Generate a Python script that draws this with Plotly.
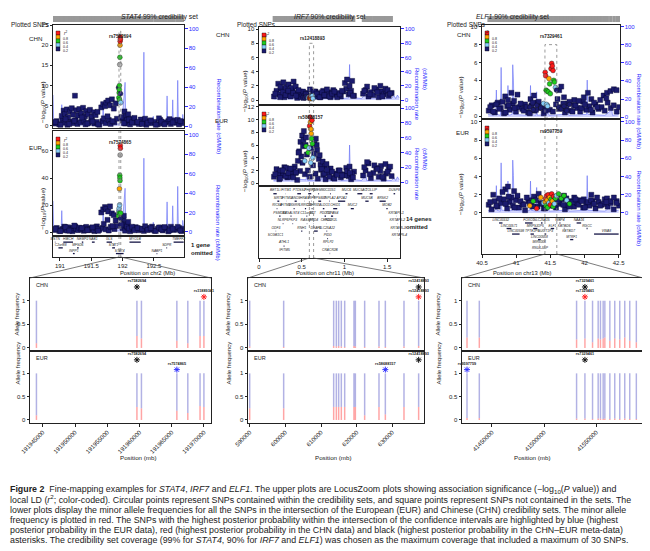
import plotly.graph_objects as go

# ---------------------------------------------------------------------------
# STAT4 locus, chr2 (Mb). Squares = plotted SNPs outside the credibility set
stat4_pos = [190.91, 190.95, 190.99, 191.04, 191.07, 191.12, 191.17, 191.20, 191.25, 191.28,
             191.33, 191.38, 191.41, 191.46, 191.50, 191.55, 191.59, 191.63, 191.68, 191.73,
             191.78, 191.81, 191.87, 191.91, 192.00, 192.04, 192.08, 192.12, 192.17, 192.21,
             192.26, 192.29, 192.34, 192.38, 192.43, 192.47, 192.51, 192.56, 192.60, 192.64,
             192.69, 192.73, 192.77, 192.82, 192.86, 192.90, 192.94, 192.97,
             191.03, 191.06, 191.08, 191.11, 191.13, 191.16, 191.19, 191.21, 191.24, 191.26,
             191.29, 191.31, 191.34, 191.37, 191.40, 191.42, 191.45, 191.48, 191.51, 191.54,
             191.57, 191.60,
             191.66, 191.69, 191.72, 191.74, 191.77, 191.80, 191.83, 191.86, 191.89,
             192.01, 192.03, 192.05, 192.07, 192.09, 192.13,
             190.93, 191.01, 191.09, 191.15, 191.23, 191.35, 191.44, 191.52, 191.61, 191.70,
             191.76, 191.84, 191.98, 192.02, 192.10, 192.15, 192.19, 192.24, 192.31, 192.36,
             192.40, 192.45, 192.53, 192.58, 192.62, 192.67, 192.75, 192.80, 192.88, 192.92]
stat4_chn = [0.6, 1.2, 0.4, 1.5, 0.8, 0.3, 1.1, 0.7, 1.4, 0.5,
             0.9, 1.3, 0.4, 0.8, 1.6, 0.6, 1.0, 0.3, 1.2, 0.7,
             1.5, 0.5, 0.9, 1.8, 1.4, 0.6, 1.1, 0.4, 1.3, 0.8,
             0.5, 1.6, 0.9, 0.3, 1.2, 0.7, 1.0, 0.4, 1.5, 0.6,
             0.9, 1.2, 0.5, 1.4, 0.8, 0.4, 1.1, 0.7,
             2.5, 3.8, 3.0, 4.1, 2.2, 3.6, 4.4, 2.8, 7.5, 3.9,
             2.6, 4.2, 3.1, 4.5, 2.4, 3.7, 2.9, 4.0, 2.3, 3.4,
             2.7, 3.5,
             4.6, 5.4, 4.9, 5.8, 6.3, 5.1, 6.6, 4.3, 5.6,
             2.0, 3.6, 2.4, 1.5, 2.9, 1.8,
             1.0, 0.3, 1.7, 0.5, 1.3, 2.1, 0.6, 1.1, 0.4, 1.9,
             2.4, 1.2, 2.2, 0.7, 1.6, 0.9, 2.0, 1.0, 0.5, 1.8,
             0.8, 1.4, 0.3, 1.9, 1.1, 0.4, 1.7, 0.9, 1.5, 1.2]
stat4_eur = [1.5, 3.0, 0.8, 2.2, 4.0, 1.2, 2.8, 0.6, 3.5, 1.8,
             2.4, 0.9, 3.2, 1.4, 2.6, 0.7, 4.2, 1.6, 3.0, 2.0,
             1.1, 3.8, 2.2, 4.5, 2.8, 1.0, 3.4, 0.6, 2.0, 3.6,
             1.3, 2.5, 0.8, 3.1, 1.7, 4.0, 0.9, 2.3, 3.3, 1.2,
             2.7, 0.5, 3.9, 1.5, 2.1, 3.0, 0.7, 2.4,
             1.5, 2.0, 2.8, 1.2, 3.5, 2.2, 1.8, 3.0, 4.2, 2.5,
             1.4, 3.2, 2.0, 2.7, 1.6, 3.8, 2.3, 1.9, 2.9, 1.5,
             3.3, 2.1,
             14.5, 16.8, 18.5, 17.2, 15.2, 19.0, 13.8, 12.5, 8.5,
             9.5, 6.0, 5.0, 4.2, 7.5, 3.0,
             2.4, 0.7, 3.6, 1.0, 4.8, 2.9, 1.4, 3.5, 0.9, 6.0,
             9.0, 4.4, 5.5, 12.0, 2.6, 3.9, 1.3, 3.0, 2.2, 4.3,
             1.6, 2.9, 0.8, 3.4, 1.9, 3.7, 1.2, 2.5, 3.8, 1.1]
# circles = SNPs in the credibility set, with LD r2 to the lead SNP (-1 = no LD info)
stat4_set_pos = [191.935, 191.940, 191.945, 191.948, 191.950, 191.952, 191.955,
                 191.957, 191.959, 191.961, 191.963, 191.965, 191.967, 191.970]
stat4_set_chn = [9.5, 7.0, 8.2, 9.0, 10.0, 6.5, 15.2, 17.0, 20.0, 21.0, 22.0, 21.5, 8.0, 5.8]
stat4_set_eur = [12.0, 15.5, 17.5, 14.0, 32.0, 20.0, 42.0, 40.0, 38.0, 57.0, 64.0, 62.0, 10.0, 14.0]
stat4_set_chn_r2 = [0.1, 0.5, 0.5, 0.5, 0.5, 0.5, -1, 0.5, 0.7, 0.9, 0.9, 0.9, 0.1, 0.3]
stat4_set_eur_r2 = [0.5, 0.3, 0.3, 0.5, 0.7, 0.3, 0.5, 0.5, 0.5, -1, 0.9, 0.9, 0.1, 0.5]
stat4_rec_pos = [190.89, 190.90, 190.96, 191.02, 191.03, 191.04, 191.23, 191.24, 191.25, 191.50,
                 191.68, 191.69, 191.70, 191.95, 192.00, 192.02, 192.04, 192.05, 192.07, 192.20,
                 192.33, 192.34, 192.35, 192.48, 192.49, 192.50, 192.65, 192.70, 192.71, 192.72,
                 192.79, 192.80, 192.81, 192.87, 192.88, 192.89, 192.95, 192.96, 192.98]
stat4_rec_rate = [32, 5, 3, 3, 22, 2, 2, 9, 2, 3,
                  2, 25, 3, 2, 12, 30, 45, 10, 3, 2,
                  3, 76, 4, 2, 10, 2, 3, 2, 31, 3,
                  2, 27, 3, 2, 47, 3, 3, 12, 3]
stat4_gene_name = ["MSTN", "C2orf88", "HIBCH", "INPP1", "MFSD6", "NEMP2", "NAB1",
                   "GLS", "STAT1", "STAT4", "MYO1B", "NABP1", "SDPR", "TMEFF2"]
stat4_gene_start = [190.920, 190.977, 191.054, 191.208, 191.273, 191.350, 191.511,
                    191.745, 191.834, 191.894, 192.110, 192.543, 192.699, 192.814]
stat4_gene_end = [190.927, 191.046, 191.209, 191.236, 191.301, 191.373, 191.555,
                  191.830, 191.879, 192.016, 192.290, 192.554, 192.711, 192.975]
stat4_gene_row = [0, 1, 0, 2, 1, 0, 0, 0, 1, 2, 0, 2, 1, 0]
stat4_ticks = [191, 191.5, 192, 192.5, 193]
stat4_tick_text = ["191", "191.5", "192", "192.5", "193"]
stat4_lead = ["rs7582694", "rs7574865"]
# intersection of the credibility sets (bp)
stat4_window = [191943000, 191971100]
stat4_af_pos = [191944000, 191959600, 191960300, 191965800, 191967500, 191969400, 191970000]
stat4_af_chn = [0.10, 0.25, 0.20, 0.15, 0.10, 0.25, 0.25]
stat4_af_eur = [0.10, 0.28, 0.25, 0.20, 0.15, 0.30, 0.28]
stat4_af_ticks = [191945000, 191950000, 191955000, 191960000, 191965000, 191970000]
# highlighted SNPs: CHN meta, CHN best, EUR meta, EUR best
stat4_star_pos = [191959600, 191970000, 191959600, 191965800]
stat4_star_label = ["rs7582694", "rs11889341", "rs7582694", "rs7574865"]

# ---------------------------------------------------------------------------
# IRF7 locus, chr11 (Mb)
irf7_pos = [0.175, 0.205, 0.238, 0.262, 0.297, 0.331, 0.356, 0.392, 0.418, 0.447,
            0.481, 0.509, 0.537, 0.571, 0.596, 0.632, 0.661, 0.688, 0.724, 0.751,
            0.779, 0.812, 0.838, 0.869, 0.897, 0.931, 0.958, 0.987, 1.021, 1.049,
            1.078, 1.112, 1.218, 1.247, 1.281, 1.309, 1.338, 1.372, 1.401, 1.428,
            1.459, 1.487, 1.518, 1.552,
            0.225, 0.250, 0.285, 0.315, 0.345, 0.375, 0.405, 0.430,
            1.005, 1.030, 1.060, 1.090,
            1.265, 1.350, 1.420, 1.480,
            0.455, 0.470, 0.485, 0.495, 0.505, 0.515, 0.525, 0.545, 0.560,
            0.650, 0.665, 0.680, 0.700, 0.720, 0.745, 0.770, 0.790,
            0.190, 0.248, 0.278, 0.312, 0.342, 0.368, 0.400, 0.432, 0.462, 0.520,
            0.550, 0.612, 0.645, 0.675, 0.710, 0.737, 0.765, 0.795, 0.825, 0.855,
            0.883, 0.915, 0.945, 0.972, 1.065, 1.100, 1.232, 1.295, 1.385, 1.445,
            1.505, 1.535]
irf7_chn = [0.5, 1.3, 0.8, 1.6, 0.4, 1.1, 0.7, 1.4, 0.9, 0.3,
            1.2, 0.6, 1.0, 0.4, 1.5, 0.8, 1.2, 0.5, 0.9, 1.3,
            0.6, 1.1, 0.4, 1.4, 0.7, 1.0, 0.5, 1.2, 1.6, 0.8,
            1.3, 0.6, 0.9, 1.4, 0.5, 1.1, 0.7, 1.5, 0.4, 1.2,
            0.8, 1.3, 0.6, 1.0,
            2.3, 1.9, 2.5, 1.8, 2.2, 1.7, 2.6, 1.9,
            2.4, 2.9, 2.0, 2.7,
            1.9, 1.7, 2.0, 1.6,
            0.9, 0.6, 1.1, 0.4, 0.8, 1.2, 0.5, 0.9, 0.7,
            0.6, 1.0, 0.5, 0.8, 0.4, 0.9, 0.6, 1.0,
            0.9, 0.4, 1.1, 0.7, 1.3, 0.5, 1.0, 0.6, 1.4, 0.3,
            0.8, 0.5, 1.2, 0.9, 0.4, 1.1, 0.7, 1.5, 0.5, 0.9,
            1.2, 0.4, 0.8, 1.3, 1.0, 0.6, 1.3, 0.8, 1.1, 0.5,
            1.4, 0.9]
irf7_eur = [1.0, 2.2, 0.6, 1.6, 2.5, 0.9, 1.8, 1.2, 2.6, 0.5,
            1.9, 3.2, 1.4, 2.0, 1.0, 2.8, 1.5, 0.7, 2.1, 1.3,
            0.6, 1.7, 2.3, 0.8, 1.5, 2.0, 0.9, 1.4, 2.4, 1.1,
            0.6, 1.8, 1.2, 2.0, 3.1, 0.8, 1.6, 2.4, 1.0, 2.7,
            0.7, 1.5, 2.2, 1.1,
            1.5, 2.0, 1.2, 2.4, 1.0, 1.8, 2.2, 1.6,
            1.2, 1.9, 2.6, 1.4,
            3.3, 2.8, 1.9, 3.0,
            3.5, 5.0, 6.5, 4.2, 7.5, 5.8, 8.2, 6.0, 4.5,
            6.2, 7.0, 5.2, 3.8, 2.9, 3.4, 2.6, 3.0,
            1.4, 0.8, 2.0, 1.1, 1.6, 2.3, 0.9, 1.7, 4.8, 6.8,
            7.2, 5.5, 4.6, 6.0, 4.4, 2.2, 1.5, 2.1, 1.0, 1.8,
            0.7, 1.3, 2.0, 1.2, 1.6, 0.9, 2.5, 1.4, 2.2, 1.0,
            1.8, 2.6]
irf7_set_pos = [0.535, 0.552, 0.575, 0.585, 0.592, 0.598, 0.602,
                0.605, 0.607, 0.611, 0.615, 0.620, 0.625, 0.630]
irf7_set_chn = [0.3, 0.5, 0.3, 0.4, 0.3, 0.2, 0.4, 0.3, 0.3, 0.2, 0.5, 0.3, 0.6, 0.2]
irf7_set_eur = [3.5, 5.8, 4.8, 5.5, 9.0, 10.4, 9.6, 3.2, 8.5, 7.8, 7.0, 9.9, 6.2, 4.0]
irf7_set_chn_r2 = [0.1, 0.1, 0.3, 0.3, 0.9, 0.9, 0.9, 0.7, 0.9, 0.7, 0.3, 0.9, 0.3, 0.3]
irf7_set_eur_r2 = [0.3, 0.5, 0.5, 0.3, 0.9, 0.9, 0.7, 0.3, 0.7, 0.7, 0.5, 0.9, 0.5, 0.3]
irf7_rec_pos = [0.17, 0.25, 0.26, 0.27, 0.40, 0.41, 0.42, 0.55, 0.56, 0.57,
                0.73, 0.74, 0.75, 0.90, 0.95, 0.96, 1.05, 1.06, 1.07, 1.20,
                1.25, 1.26, 1.40, 1.55, 1.58, 1.60, 1.62, 1.64]
irf7_rec_rate = [2, 4, 12, 3, 3, 22, 4, 3, 10, 2,
                 3, 15, 3, 2, 8, 2, 3, 50, 4, 2,
                 10, 2, 3, 2, 6, 2, 7, 3]
irf7_gene_name = ["BET1L", "SIRT3", "RIC8A", "PSMD13", "NLRP6", "ODF3", "SCGB1C1", "IFITM1",
                  "IFITM3", "IFITM2", "ATHL1", "IFITM5", "B4GALNT4", "PKP3", "SIGIRR", "ANO9",
                  "PTDSS2", "RNH1", "HRAS", "LRRC56", "C11orf35", "RASSF7", "PHRF1", "IRF7",
                  "CDHR5", "SCT", "DRD4", "DEAF1", "TMEM80", "EPS8L2", "TALDO1", "PDDC1",
                  "CEND1", "SLC25A22", "PIDD", "RPLP2", "PNPLA2", "CRACR2B", "CD151", "POLR2L",
                  "TSPAN4", "CHID1", "AP2A2", "MUC6", "MUC2", "MUC5AC", "MUC5B", "TOLLIP",
                  "BRSK2", "MOB2", "DUSP8", "KRTAP5-1", "KRTAP5-2", "KRTAP5-3", "KRTAP5-4",
                  "KRTAP5-5"]
irf7_gene_start = [0.168, 0.215, 0.207, 0.236, 0.278, 0.196, 0.193, 0.313,
                   0.319, 0.308, 0.288, 0.298, 0.369, 0.393, 0.405, 0.417,
                   0.448, 0.494, 0.532, 0.537, 0.555, 0.560, 0.576, 0.612,
                   0.616, 0.626, 0.637, 0.644, 0.695, 0.694, 0.747, 0.767,
                   0.787, 0.790, 0.799, 0.809, 0.819, 0.828, 0.832, 0.842,
                   0.842, 0.868, 0.925, 1.012, 1.074, 1.151, 1.244, 1.296,
                   1.411, 1.490, 1.575, 1.605, 1.618, 1.627, 1.642, 1.651]
irf7_gene_end = [0.207, 0.237, 0.215, 0.252, 0.285, 0.200, 0.194, 0.315,
                 0.321, 0.309, 0.298, 0.299, 0.380, 0.399, 0.417, 0.442,
                 0.491, 0.507, 0.535, 0.551, 0.565, 0.564, 0.611, 0.616,
                 0.626, 0.627, 0.640, 0.687, 0.703, 0.727, 0.765, 0.784,
                 0.789, 0.798, 0.808, 0.811, 0.825, 0.832, 0.839, 0.843,
                 0.867, 0.915, 1.009, 1.036, 1.110, 1.209, 1.283, 1.330,
                 1.483, 1.506, 1.593, 1.607, 1.620, 1.629, 1.644, 1.653]
irf7_gene_row = [0, 1, 2, 3, 4, 5, 6, 0,
                 1, 2, 7, 8, 3, 4, 2, 1,
                 0, 5, 1, 2, 3, 4, 0, 1,
                 2, 3, 4, 5, 0, 1, 2, 3,
                 4, 5, 6, 7, 1, 8, 0, 4,
                 3, 2, 1, 0, 2, 0, 1, 0,
                 1, 2, 0, 3, 4, 5, 6, 7]
irf7_ticks = [0, 0.5, 1, 1.5]
irf7_tick_text = ["0", "0.5", "1", "1.5"]
irf7_lead = ["rs12418893", "rs58688157"]
irf7_window = [589530, 638880]
irf7_af_pos = [590000, 599530, 613550, 614300, 614950, 615700, 616640,
               619250, 619630, 622240, 626260, 628040, 633270, 637380]
irf7_af_chn = [0.03, 0.02, 0.04, 0.03, 0.04, 0.03, 0.02, 0.04, 0.03, 0.02, 0.03, 0.02, 0.03, 0.04]
irf7_af_eur = [0.25, 0.25, 0.28, 0.28, 0.28, 0.28, 0.28, 0.28, 0.28, 0.10, 0.28, 0.12, 0.28, 0.28]
irf7_af_ticks = [590000, 600000, 610000, 620000, 630000]
irf7_star_pos = [637380, 637380, 637380, 628040]
irf7_star_label = ["rs12418893", "rs12418893", "rs12418893", "rs58688157"]

# ---------------------------------------------------------------------------
# ELF1 locus, chr13 (Mb)
elf1_pos = [40.598, 40.641, 40.687, 40.729, 40.776, 40.822, 40.868, 40.905, 40.953, 40.997,
            41.042, 41.089, 41.131, 41.176, 41.224, 41.268, 41.312, 41.357, 41.403, 41.448,
            41.493, 41.538, 41.583, 41.627, 41.668, 41.714, 41.757, 41.803, 41.846, 41.892,
            41.937, 41.981, 42.026, 42.072, 42.118, 42.161, 42.207, 42.251, 42.296, 42.339,
            42.385, 42.428, 42.472, 42.505,
            40.84, 40.88, 40.93, 40.97, 41.02, 41.21, 41.26, 41.33, 41.63, 41.66,
            41.70, 41.85, 41.99, 42.05, 42.10, 42.28, 42.33, 42.38, 42.43, 42.47,
            40.620, 40.665, 40.710, 40.752, 40.800, 40.845, 40.890, 40.975, 41.065, 41.110,
            41.155, 41.200, 41.245, 41.290, 41.380, 41.425, 41.605, 41.690, 41.735, 41.780,
            41.825, 41.870, 41.915, 41.960, 42.005, 42.095, 42.140, 42.185, 42.230, 42.320]
elf1_chn = [0.6, 1.2, 0.4, 1.5, 0.9, 0.3, 1.1, 0.7, 1.4, 0.5,
            1.0, 0.8, 1.3, 0.4, 1.2, 0.6, 1.5, 0.9, 0.3, 1.1,
            0.7, 0.5, 1.3, 0.8, 1.0, 0.4, 1.4, 0.6, 1.2, 0.9,
            0.5, 1.6, 0.7, 1.1, 0.4, 1.3, 0.8, 1.0, 0.6, 1.5,
            0.9, 1.2, 0.5, 1.0,
            2.2, 1.8, 2.6, 1.7, 2.4, 1.9, 2.3, 1.6, 2.9, 3.3,
            2.1, 1.8, 2.1, 2.6, 1.9, 2.3, 2.6, 2.8, 3.0, 2.9,
            1.0, 0.5, 1.3, 0.8, 1.6, 0.4, 1.2, 0.9, 1.4, 0.6,
            1.0, 0.3, 1.5, 0.7, 1.1, 0.6, 1.9, 1.4, 0.8, 1.6,
            0.5, 1.2, 1.7, 0.9, 1.3, 0.7, 1.5, 1.0, 1.8, 2.0]
elf1_eur = [0.9, 0.4, 1.3, 0.7, 1.1, 1.5, 0.5, 1.2, 0.8, 1.4,
            0.6, 1.0, 0.3, 1.3, 0.9, 1.6, 0.7, 1.1, 0.5, 1.4,
            0.8, 1.2, 0.6, 1.0, 1.5, 0.4, 0.9, 1.3, 0.7, 1.1,
            1.4, 0.6, 1.0, 0.8, 1.3, 0.5, 1.2, 0.9, 1.5, 0.7,
            1.1, 0.4, 1.3, 0.8,
            2.6, 2.9, 1.7, 2.4, 1.9, 1.4, 1.8, 2.1, 1.2, 1.6,
            1.9, 1.7, 1.5, 1.2, 2.0, 1.0, 1.6, 1.3, 1.7, 1.1,
            1.2, 2.0, 0.8, 1.6, 2.3, 1.0, 1.8, 0.6, 1.3, 0.9,
            1.7, 1.1, 0.7, 1.4, 1.0, 0.5, 1.3, 0.9, 1.6, 0.7,
            1.2, 1.5, 0.9, 1.3, 0.6, 1.4, 1.0, 1.7, 0.8, 1.2]
elf1_set_pos = [41.20, 41.25, 41.30, 41.36, 41.40, 41.425, 41.432, 41.438, 41.445, 41.452,
                41.460, 41.470, 41.480, 41.490, 41.500, 41.510, 41.520, 41.530, 41.540, 41.550,
                41.560, 41.575, 41.590, 41.62, 41.66, 41.70, 41.74, 41.78]
elf1_set_chn = [1.0, 0.7, 1.2, 0.9, 1.4, 4.9, 4.5, 2.9, 1.3, 2.8,
                1.1, 2.7, 4.2, 3.6, 2.5, 5.3, 5.9, 5.6, 5.1, 4.0,
                3.8, 3.2, 2.9, 1.0, 0.8, 1.1, 0.6, 1.3]
elf1_set_eur = [0.8, 1.3, 0.5, 1.7, 1.1, 1.2, 1.6, 0.8, 1.9, 1.4,
                0.6, 2.0, 1.1, 1.7, 0.9, 1.5, 2.1, 1.3, 0.7, 1.8,
                1.0, 1.6, 1.9, 2.1, 1.6, 1.9, 1.4, 1.0]
elf1_set_chn_r2 = [0.1, 0.1, 0.1, 0.1, 0.3, 0.9, 0.9, 0.5, 0.3, 0.5,
                   0.3, 0.5, 0.7, 0.5, 0.5, 0.9, 0.9, 0.9, 0.9, 0.5,
                   0.5, 0.3, 0.1, 0.1, 0.1, 0.1, 0.1, 0.1]
elf1_set_eur_r2 = [0.7, 0.5, 0.9, 0.7, 0.3, 0.7, 0.9, 0.5, 0.9, 0.7,
                   0.5, 0.9, 0.3, 0.7, 0.9, 0.5, 0.9, 0.7, 0.5, 0.9,
                   0.3, 0.5, 0.3, 0.5, 0.5, 0.5, 0.3, 0.5]
elf1_rec_pos = [40.59, 40.66, 40.70, 40.71, 40.72, 40.77, 40.78, 40.79, 40.87, 40.88,
                40.89, 40.94, 40.95, 40.96, 40.97, 41.15, 41.20, 41.21, 41.22, 41.29,
                41.30, 41.31, 41.45, 41.47, 41.48, 41.70, 41.76, 41.77, 42.03, 42.04,
                42.05, 42.30, 42.40, 42.41, 42.50]
elf1_rec_rate = [3, 2, 4, 30, 3, 2, 55, 3, 3, 35,
                 2, 3, 58, 41, 3, 2, 3, 35, 3, 2,
                 28, 2, 3, 12, 2, 3, 18, 2, 3, 41,
                 3, 2, 8, 2, 3]
elf1_gene_name = ["LINC00332", "LINC00571", "LINC00598", "FOXO1", "MRPS31P5", "TPTE2P5",
                  "LINC00558", "MIR5006", "RNU6-55P", "SLC25A15", "ELF1", "SUGT1P3", "WBP4",
                  "KBTBD6", "KBTBD7", "MTRF1", "NAA16", "RGCC", "VWA8"]
elf1_gene_start = [40.750, 40.860, 40.940, 41.130, 41.250, 41.210,
                   41.320, 41.335, 41.345, 41.363, 41.506, 41.420, 41.635,
                   41.699, 41.766, 41.790, 41.885, 42.031, 42.140]
elf1_gene_end = [40.800, 40.930, 41.050, 41.240, 41.310, 41.260,
                 41.360, 41.340, 41.350, 41.386, 41.556, 41.440, 41.647,
                 41.705, 41.768, 41.836, 41.951, 42.045, 42.500]
elf1_gene_row = [0, 1, 2, 0, 1, 2, 3, 4, 5, 0, 1, 2, 0, 1, 2, 3, 0, 1, 2]
elf1_ticks = [40.5, 41, 41.5, 42, 42.5]
elf1_tick_text = ["40.5", "41", "41.5", "42", "42.5"]
elf1_lead = ["rs7329461", "rs9597759"]
elf1_window = [41421300, 41594900]
elf1_af_pos = [41426100, 41437900, 41531200, 41539200, 41546500, 41551900, 41554100, 41556700,
               41558300, 41563100, 41567800, 41572600, 41577400, 41582200, 41588500]
elf1_af_chn = [0.22, 0.22, 0.18, 0.20, 0.12, 0.20, 0.18, 0.20, 0.22, 0.15, 0.20, 0.18, 0.22, 0.15, 0.12]
elf1_af_eur = [0.04, 0.04, 0.03, 0.03, 0.02, 0.03, 0.03, 0.02, 0.03, 0.02, 0.03, 0.02, 0.03, 0.02, 0.02]
elf1_af_ticks = [41450000, 41500000, 41550000]
elf1_star_pos = [41539200, 41539200, 41539200, 41426100]
elf1_star_label = ["rs7329461", "rs7329461", "rs7329461", "rs9597759"]

caption_lines = [
    "<b>Figure 2</b>  Fine-mapping examples for <i>STAT4</i>, <i>IRF7</i> and <i>ELF1</i>. The upper plots are LocusZoom plots showing association significance (\u2212log<sub>10</sub>(<i>P</i> value)) and",
    "local LD (<i>r</i><sup>2</sup>; color-coded). Circular points represent SNPs contained within the credibility sets, and square points represent SNPs not contained in the sets. The",
    "lower plots display the minor allele frequencies for all the SNPs in the intersection of the European (EUR) and Chinese (CHN) credibility sets. The minor allele",
    "frequency is plotted in red. The SNPs with the highest posterior probability within the intersection of the confidence intervals are highlighted by blue (highest",
    "posterior probability in the EUR data), red (highest posterior probability in the CHN data) and black (highest posterior probability in the CHN\u2013EUR meta-data)",
    "asterisks. The credibility set coverage (99% for <i>STAT4</i>, 90% for <i>IRF7</i> and <i>ELF1</i>) was chosen as the maximum coverage that included a maximum of 30 SNPs.",
]

# ---------------------------------------------------------------------------
# the page body keeps an 8 px margin, so the figure is 8 px smaller and all
# pixel positions below are shifted by 8
OFF = 8
W, H = 650 - OFF, 551 - OFF
FONT = "Liberation Sans"
INK = "#1a1a1a"
REC_BLUE = "#2a2aff"
NAVY = "#1b1b6e"
LD_BINS = [(0.8, "#ff1a1a"), (0.6, "#ffa500"), (0.4, "#1fcc1f"), (0.2, "#87cefa"), (0.0, NAVY)]


def ld_color(r2):
    if r2 < 0:
        return "#b8b8b8"
    for lo, c in LD_BINS:
        if r2 >= lo:
            return c


def px(x):
    return (x - OFF) / W


def py(y):
    return 1 - (y - OFF) / H


def data_for(k):
    g = globals()
    return {name: g[f"{k}_{name}"] for name in [
        "pos", "chn", "eur", "set_pos", "set_chn", "set_eur", "set_chn_r2", "set_eur_r2",
        "rec_pos", "rec_rate", "gene_name", "gene_start", "gene_end", "gene_row", "ticks",
        "tick_text", "lead", "window", "af_pos", "af_chn", "af_eur", "af_ticks",
        "star_pos", "star_label"]}


# page geometry, in pixels of the 650x551 picture
COLUMNS = [
    dict(key="stat4", title="<i>STAT4</i> 99% credibility set", chrom="chr2",
         lz=(53, 184), chn=(25, 128), eur=(131, 235), gene=(237, 257), af=(30, 211),
         xr=[190.89, 192.98], chn_y=[-0.5, 25.0], chn_t=[0, 5, 10, 15, 20, 25], chn_rec=[-2, 104],
         eur_y=[-2.2, 74.8], eur_t=[0, 20, 40, 60], eur_rec=[-3.1, 104], box_top=23.5, bar_w=230,
         plotted_right=51, tag_x=27, tag_y=(33, 142), ytitle_x=37, rtitle_x=213,
         rtitle="Recombination rate (cM/Mb)", xtitle_x=118, afl_x=12, post_x=118,
         omit="1 gene<br>omitted", omit_xy=(189, 249)),
    dict(key="irf7", title="<i>IRF7</i> 90% credibility set", chrom="chr11",
         lz=(259, 400), chn=(27, 104), eur=(106, 185), gene=(187, 258), af=(248, 424),
         xr=[0.0, 1.65], chn_y=[-0.56, 10.3], chn_t=[0, 2, 4, 6, 8, 10], chn_rec=[-5.6, 102.8],
         eur_y=[-0.3, 12.15], eur_t=[0, 2, 4, 6, 8, 10, 12], eur_rec=[-4, 102.7], box_top=8, bar_w=420,
         plotted_right=277, tag_x=222, tag_y=(29, 115), ytitle_x=245, rtitle_x=421,
         rtitle="(cM/Mb)<br>Recombination rate", xtitle_x=325, afl_x=228, post_x=333,
         omit="14 genes<br>omitted", omit_xy=(404, 223)),
    dict(key="elf1", title="<i>ELF1</i> 90% credibility set", chrom="chr13",
         lz=(482, 620), chn=(25, 118), eur=(120, 217), gene=(218, 254), af=(462, 643),
         xr=[40.5, 42.52], chn_y=[-0.22, 10.2], chn_t=[0, 2, 4, 6, 8, 10], chn_rec=[-1, 102],
         eur_y=[-0.44, 10.2], eur_t=[0, 2, 4, 6, 8, 10], eur_rec=[-4.4, 102], box_top=8, bar_w=1400,
         plotted_right=487, tag_x=472, tag_y=(29, 127), ytitle_x=467, rtitle_x=643,
         rtitle="Recombination rate (cM/Mb)", xtitle_x=553, afl_x=443, post_x=552,
         omit=None, omit_xy=None),
]
AF_TOP, AF_MID, AF_BOT = 278, 351, 423

fig = go.Figure()
layout = {}
shapes = []
annotations = []
count = {"x": 0, "y": 0}

BASE = dict(showgrid=False, zeroline=False, fixedrange=True, automargin=False, showline=True,
            linecolor="#222", linewidth=1, mirror=True, ticks="outside", ticklen=2.5,
            tickwidth=0.7, tickcolor="#222", tickfont=dict(size=6, color=INK, family=FONT))


def ax_id(kind, i):
    return kind + ("" if i == 1 else str(i))


def add_axis(kind, props):
    count[kind] += 1
    layout[kind + "axis" + ("" if count[kind] == 1 else str(count[kind]))] = props
    return ax_id(kind, count[kind])


def panel(x0, x1, top, bottom, xprops, yprops):
    xid, yid = ax_id("x", count["x"] + 1), ax_id("y", count["y"] + 1)
    add_axis("x", {**BASE, **xprops, "domain": [px(x0), px(x1)], "anchor": yid})
    add_axis("y", {**BASE, **yprops, "domain": [py(bottom), py(top)], "anchor": xid})
    return xid, yid


def overlay(xid, yid, props):
    return add_axis("y", {**BASE, "showline": False, "mirror": False, **props,
                          "overlaying": yid, "anchor": xid})


def note(x, y, text, size=6, color=INK, **kw):
    annotations.append(dict(x=px(x), y=py(y), xref="paper", yref="paper", text=text,
                            showarrow=False, font=dict(family=FONT, size=size, color=color), **kw))


def ld_legend(x_left, y_top):
    note(x_left + 6, y_top - 2.5, "<i>r</i><sup>2</sup>", size=4.5)
    for i, (lo, c) in enumerate(LD_BINS):
        shapes.append(dict(type="rect", xref="paper", yref="paper", layer="above",
                           x0=px(x_left), x1=px(x_left + 4), y0=py(y_top + 4 * (i + 1)),
                           y1=py(y_top + 4 * i), fillcolor=c, line=dict(color="#111", width=0.4)))
        if i < 4:
            note(x_left + 5, y_top + 4 * (i + 1), f"{lo:.1f}", size=3.6, xanchor="left")


def locus_panel(g, d, pop, top, bottom):
    yr, yt, rr = g[pop + "_y"], g[pop + "_t"], g[pop + "_rec"]
    xid, rid = panel(g["lz"][0], g["lz"][1], top, bottom,
                     dict(range=g["xr"], showticklabels=False, ticks=""),
                     dict(range=rr, side="right", tickvals=[0, 20, 40, 60, 80, 100],
                          tickcolor=REC_BLUE, tickfont=dict(size=6, color=REC_BLUE, family=FONT)))
    lid = overlay(xid, rid, dict(range=yr, side="left", tickvals=yt))
    fig.add_trace(go.Scatter(x=d["rec_pos"], y=d["rec_rate"], mode="lines", xaxis=xid, yaxis=rid,
                             line=dict(color="rgba(90,100,245,0.8)", width=0.7), fill="tozeroy",
                             fillcolor="rgba(120,130,255,0.35)", hoverinfo="skip", showlegend=False))
    fig.add_trace(go.Scatter(x=d["pos"], y=d[pop], mode="markers", xaxis=xid, yaxis=lid,
                             marker=dict(symbol="square", size=5, color=NAVY,
                                         line=dict(color="#05052a", width=0.4)),
                             hoverinfo="skip", showlegend=False))
    fig.add_trace(go.Scatter(x=d["set_pos"], y=d["set_" + pop], mode="markers", xaxis=xid, yaxis=lid,
                             marker=dict(symbol="circle", size=4.8,
                                         color=[ld_color(r) for r in d["set_" + pop + "_r2"]],
                                         line=dict(color="#111", width=0.4)),
                             hoverinfo="skip", showlegend=False))
    # lead SNP label, over the top SNP of the set
    vals = d["set_" + pop]
    lead_x = d["set_pos"][vals.index(max(vals))]
    annotations.append(dict(x=lead_x, y=py(top + 7), xref=xid, yref="paper",
                            text="<b>" + d["lead"][0 if pop == "chn" else 1] + "</b>",
                            showarrow=False, font=dict(family=FONT, size=4.6, color=INK)))
    w0, w1 = d["window"][0] / 1e6, d["window"][1] / 1e6
    dot = dict(color="#808080", width=0.8, dash="dot")
    if pop == "chn":
        shapes.append(dict(type="rect", xref=xid, yref=lid, x0=w0, x1=w1, y0=yr[0],
                           y1=g["box_top"], line=dot, layer="above"))
    else:
        for w in (w0, w1):
            shapes.append(dict(type="line", xref=xid, yref=lid + " domain", x0=w, x1=w,
                               y0=0, y1=1, line=dot, layer="above"))
    ld_legend(g["lz"][0] + 3, top + 6)
    tag_y = g["tag_y"][0 if pop == "chn" else 1]
    note(g["tag_x"], tag_y, pop.upper(), size=6.2)
    mid = (top + bottom) / 2
    note(g["ytitle_x"], mid + 4, "\u2212log<sub>10</sub>(<i>P</i> value)", size=6.2, textangle=-90)
    note(g["rtitle_x"], mid, g["rtitle"], size=6.0, color=REC_BLUE, textangle=90, align="left")
    return xid


def gene_panel(g, d):
    top, bottom = g["gene"]
    nrows = max(d["gene_row"]) + 1
    xid, yid = panel(g["lz"][0], g["lz"][1], top, bottom,
                     dict(range=g["xr"], tickvals=d["ticks"], ticktext=d["tick_text"]),
                     dict(range=[-(nrows - 1) - 0.6, 0.9], showticklabels=False, ticks=""))
    xs, ys = [], []
    for s, e, r in zip(d["gene_start"], d["gene_end"], d["gene_row"]):
        xs += [s, e, None]
        ys += [-r, -r, None]
    fig.add_trace(go.Scatter(x=xs, y=ys, mode="lines", xaxis=xid, yaxis=yid,
                             line=dict(color="#151545", width=1.3), hoverinfo="skip",
                             showlegend=False))
    fig.add_trace(go.Scatter(x=[(s + e) / 2 for s, e in zip(d["gene_start"], d["gene_end"])],
                             y=[-r + 0.45 for r in d["gene_row"]], text=d["gene_name"],
                             mode="text", xaxis=xid, yaxis=yid, cliponaxis=False,
                             textfont=dict(family=FONT, size=3.3, color="#222", style="italic"),
                             hoverinfo="skip", showlegend=False))
    w0, w1 = d["window"][0] / 1e6, d["window"][1] / 1e6
    for w in (w0, w1):
        shapes.append(dict(type="line", xref=xid, yref=yid + " domain", x0=w, x1=w, y0=0, y1=1,
                           line=dict(color="#808080", width=0.8, dash="dot"), layer="above"))
    note(g["xtitle_x"], 273, f"Position on {g['chrom']} (Mb)", size=5.8)
    if g["omit"]:
        note(g["omit_xy"][0], g["omit_xy"][1], "<b>" + g["omit"] + "</b>", size=6,
             xanchor="left", align="left")
    # funnel from the window on the locus axis to the allele frequency panels
    lz0, lz1 = g["lz"]
    xr = g["xr"]
    wpx = [lz0 + (w - xr[0]) / (xr[1] - xr[0]) * (lz1 - lz0) for w in (w0, w1)]
    for a, b in ((wpx[0], g["af"][0]), (wpx[1], g["af"][1])):
        shapes.append(dict(type="line", xref="paper", yref="paper", x0=px(a), y0=py(bottom),
                           x1=px(b), y1=py(AF_TOP), line=dict(color="#444", width=0.7)))


def af_panel(g, d, pop, top, bottom, last):
    xprops = dict(range=d["window"])
    if last:
        xprops.update(tickvals=d["af_ticks"], ticktext=[str(t) for t in d["af_ticks"]],
                      tickangle=-45)
    else:
        xprops.update(showticklabels=False, ticks="")
    xid, yid = panel(g["af"][0], g["af"][1], top, bottom, xprops,
                     dict(range=[-0.065, 1.48], tickvals=[0, 0.5, 1], ticktext=["0", "0.5", "1"]))
    maf = d["af_" + pop]
    fig.add_trace(go.Bar(x=d["af_pos"], y=maf, width=g["bar_w"], xaxis=xid, yaxis=yid,
                         marker=dict(color="rgba(255,105,105,0.6)", line=dict(width=0)),
                         hoverinfo="skip", showlegend=False))
    fig.add_trace(go.Bar(x=d["af_pos"], y=[1 - m for m in maf], base=maf, width=g["bar_w"],
                         xaxis=xid, yaxis=yid,
                         marker=dict(color="rgba(115,115,205,0.55)", line=dict(width=0)),
                         hoverinfo="skip", showlegend=False))
    # meta (black, upper) and population-specific (red / blue, lower) asterisks
    i0 = 0 if pop == "chn" else 2
    low_color = "#ff2020" if pop == "chn" else "#3030ff"
    for j, yv, col in ((i0, 1.29, "#111"), (i0 + 1, 1.08, low_color)):
        fig.add_trace(go.Scatter(x=[d["star_pos"][j]], y=[yv], mode="markers+text",
                                 text=["<b>" + d["star_label"][j] + "</b>"], textposition="top center",
                                 textfont=dict(family=FONT, size=3.8, color=INK),
                                 marker=dict(symbol="asterisk-open", size=5, color=col,
                                             line=dict(color=col, width=1)),
                                 xaxis=xid, yaxis=yid, cliponaxis=False, hoverinfo="skip",
                                 showlegend=False))
    note(g["af"][0] + 4, top + 7, pop.upper(), size=5.5, xanchor="left")
    note(g["afl_x"], (top + bottom) / 2, "Allele frequency", size=6, textangle=-90)


for g in COLUMNS:
    d = data_for(g["key"])
    lz0, lz1 = g["lz"]
    note((lz0 + lz1) / 2, 11, g["title"], size=6.8)
    # rug of plotted SNPs
    rx, ry = panel(lz0, lz1, 16, 22, dict(range=g["xr"], visible=False),
                   dict(range=[0, 1], visible=False))
    rug = sorted(d["pos"] + d["set_pos"])
    fig.add_trace(go.Scatter(x=rug, y=[0.5 for _ in rug], mode="markers", xaxis=rx, yaxis=ry,
                             marker=dict(symbol="line-ns-open", size=5, color="#999999",
                                         line=dict(color="#999999", width=2.6)),
                             hoverinfo="skip", showlegend=False))
    note(g["plotted_right"], 19, "Plotted SNPs", size=6.4, xanchor="right")
    locus_panel(g, d, "chn", *g["chn"])
    locus_panel(g, d, "eur", *g["eur"])
    gene_panel(g, d)
    af_panel(g, d, "chn", AF_TOP, AF_MID, False)
    af_panel(g, d, "eur", AF_MID, AF_BOT, True)
    note(g["post_x"], 463, "Position (mb)", size=6.2)

for i, line in enumerate(caption_lines):
    note(8, 497 + 10 * i, line, size=8.85, color="#222", xanchor="left")

fig.update_layout(layout)
fig.update_layout(width=W, height=H, autosize=False, margin=dict(l=0, r=0, t=0, b=0, pad=0),
                  paper_bgcolor="white", plot_bgcolor="white", barmode="overlay",
                  showlegend=False, shapes=shapes, annotations=annotations,
                  font=dict(family=FONT, color=INK))
fig.write_html("out.html")
